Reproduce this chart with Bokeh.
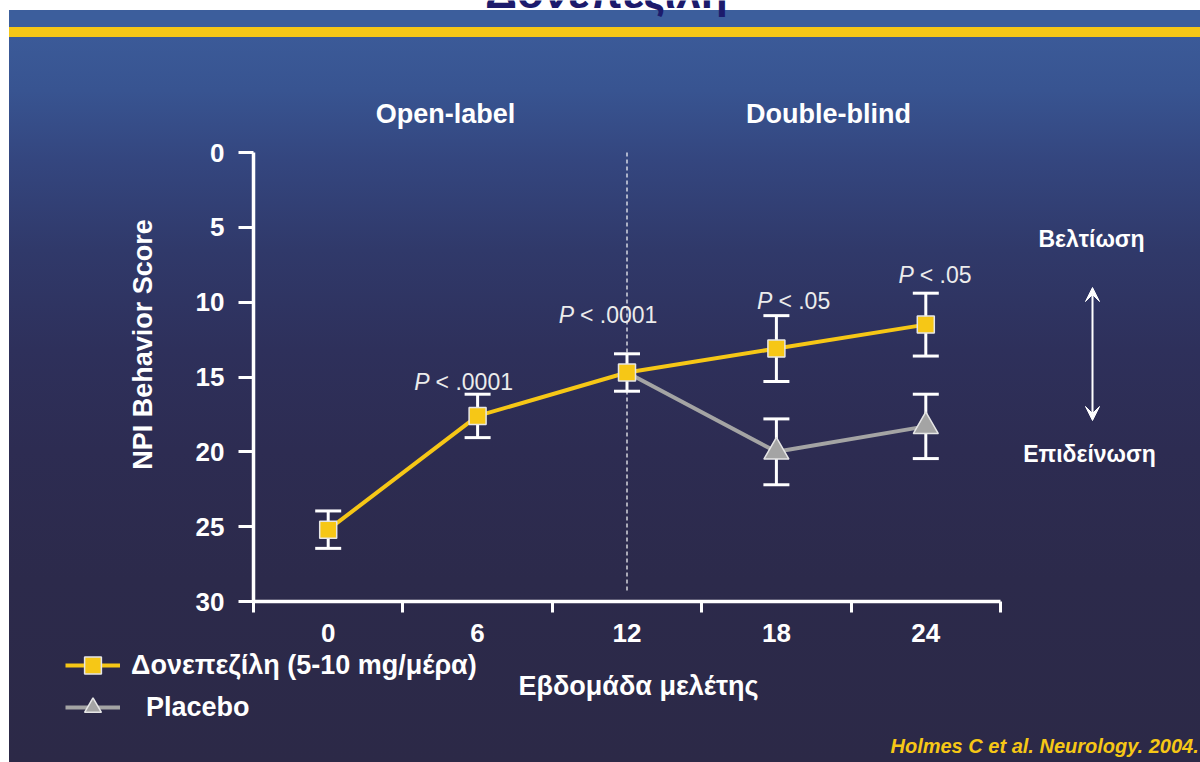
import math

from bokeh.core.properties import value
from bokeh.embed import file_html
from bokeh.models import (Arrow, ColumnDataSource, FixedTicker, Label, Legend,
                          LegendItem, Range1d, TeeHead, VeeHead, Whisker)
from bokeh.plotting import figure
from bokeh.resources import INLINE

# ---- data -------------------------------------------------------------
weeks = [0, 6, 12, 18, 24]
donepezil = [25.2, 17.6, 14.7, 13.1, 11.5]
donepezil_err = [1.25, 1.45, 1.25, 2.2, 2.1]

placebo_weeks = [12, 18, 24]
placebo = [14.7, 20.0, 18.3]
placebo_err_weeks = [18, 24]
placebo_err = [2.2, 2.15]

pvalue_weeks = [6, 12, 18, 24]
pvalue_text = ["< .0001", "< .0001", "< .05", "< .05"]

x_tick_labels = [0, 6, 12, 18, 24]
x_tick_marks = [-3, 3, 9, 15, 21, 27]
y_ticks = [0, 5, 10, 15, 20, 25, 30]

phase_split_week = 12

# label anchor offsets (pixels) relative to the upper end of each error bar
pvalue_dx = [-48, -53, -4, -12]
pvalue_dy = [-12, -39, -15, -18]

# ---- layout -----------------------------------------------------------
W, H = 1200, 762
# pixel box of the axes area inside the slide
AX_L, AX_R, AX_T, AX_B = 253, 1000, 152, 601
X0, X1 = -3, 27
Y_TOP, Y_BOT = 0, 30

FONT = "Liberation Sans"
YELLOW = "#f6c716"
GREY = "#a4a4a4"


def dx(px):
    return X0 + (px - AX_L) * (X1 - X0) / (AX_R - AX_L)


def dy(py):
    return Y_TOP + (py - AX_T) * (Y_BOT - Y_TOP) / (AX_B - AX_T)


# the plot frame fills the whole slide; axes sit at fixed locations inside it
p = figure(
    width=W, height=H,
    x_range=Range1d(dx(0), dx(W)), y_range=Range1d(dy(H), dy(0)),
    min_border=0, min_border_left=0, min_border_right=0,
    min_border_top=0, min_border_bottom=0,
    output_backend="svg", toolbar_location=None,
)
p.background_fill_alpha = 0
p.border_fill_alpha = 0
p.outline_line_color = None
p.grid.visible = False

# slide background: white margins, blue band, yellow rule, vertical gradient
p.styles = {
    "background": (
        "linear-gradient(to right, #ffffff 0px, #ffffff 9px, transparent 9px), "
        "linear-gradient(to bottom, #ffffff 0px, #ffffff 10px, #3c5e9c 10px, #3c5e9c 27px, "
        f"{YELLOW} 27px, {YELLOW} 37px, #3b5a98 37px, #385491 90px, #34467f 160px, "
        "#30396a 250px, #2e305b 350px, #2d2c52 450px, #2c2a4b 580px, #2c2947 762px)"
    )
}

# ---- axes -------------------------------------------------------------
for ax in (p.xaxis[0], p.yaxis[0]):
    ax.axis_line_color = "white"
    ax.axis_line_width = 3.5
    ax.major_label_text_color = "white"
    ax.major_label_text_font = FONT
    ax.major_label_text_font_style = "bold"
    ax.major_label_text_font_size = "26px"
    ax.major_tick_line_color = "white"
    ax.major_tick_line_width = 3
    ax.major_tick_in = 0

p.yaxis.fixed_location = X0
p.yaxis.bounds = (Y_TOP, Y_BOT)
p.yaxis.ticker = FixedTicker(ticks=y_ticks)
p.yaxis.major_tick_out = 15
p.yaxis.major_label_standoff = 14
p.yaxis.minor_tick_line_color = None

p.xaxis.fixed_location = Y_BOT
p.xaxis.bounds = (X0, X1)
p.xaxis.ticker = FixedTicker(ticks=x_tick_labels, minor_ticks=x_tick_marks)
p.xaxis.major_tick_out = 0
p.xaxis.major_tick_line_color = None
p.xaxis.minor_tick_line_color = "white"
p.xaxis.minor_tick_line_width = 3
p.xaxis.minor_tick_in = 0
p.xaxis.minor_tick_out = 11
p.xaxis.major_label_standoff = 11

# phase divider between open-label and double-blind periods
p.segment(x0=phase_split_week, y0=Y_TOP, x1=phase_split_week, y1=Y_BOT - 0.6,
          line_color="white", line_width=1.2, line_dash="4 3")

# ---- error bars ---------------------------------------------------------
don_src = ColumnDataSource(dict(
    x=weeks, y=donepezil,
    upper=[v - e for v, e in zip(donepezil, donepezil_err)],
    lower=[v + e for v, e in zip(donepezil, donepezil_err)],
))
pla_err_y = [placebo[placebo_weeks.index(w)] for w in placebo_err_weeks]
pla_err_src = ColumnDataSource(dict(
    x=placebo_err_weeks,
    upper=[v - e for v, e in zip(pla_err_y, placebo_err)],
    lower=[v + e for v, e in zip(pla_err_y, placebo_err)],
))
for src in (don_src, pla_err_src):
    p.add_layout(Whisker(
        source=src, base="x", upper="upper", lower="lower", dimension="height",
        line_color="white", line_width=3,
        upper_head=TeeHead(size=26, line_color="white", line_width=3),
        lower_head=TeeHead(size=26, line_color="white", line_width=3),
    ))

# ---- series -------------------------------------------------------------
pla_line = p.line(placebo_weeks, placebo, line_color=GREY, line_width=4)
don_line = p.line(weeks, donepezil, line_color=YELLOW, line_width=4)
don_pts = p.scatter(weeks, donepezil, marker="square", size=17,
                    fill_color=YELLOW, line_color="#e6e6e6", line_width=1.5)
pla_pts = p.scatter(placebo_weeks[1:], placebo[1:], marker="triangle", size=25,
                    fill_color=GREY, line_color="#e6e6e6", line_width=1.5)

# ---- significance labels -------------------------------------------------
pv_src = ColumnDataSource(dict(
    x=pvalue_weeks,
    y=[don_src.data["upper"][weeks.index(w)] for w in pvalue_weeks],
    txt=pvalue_text,
    px=["P"] * len(pvalue_weeks),
    xo=pvalue_dx,
    xo2=[d + 6 for d in pvalue_dx],
    yo=pvalue_dy,
))
p.text(x="x", y="y", text="px", x_offset="xo", y_offset="yo", source=pv_src,
       text_align="right", text_baseline="middle", text_color="#ececec",
       text_font=value(FONT), text_font_style="italic", text_font_size="23px")
p.text(x="x", y="y", text="txt", x_offset="xo2", y_offset="yo", source=pv_src,
       text_align="left", text_baseline="middle", text_color="#ececec",
       text_font=value(FONT), text_font_style="normal", text_font_size="23px")


# ---- text annotations -----------------------------------------------------
def label(text, px, py, size="27px", align="center", style="bold",
          color="white", angle=0.0):
    p.add_layout(Label(
        x=dx(px), y=dy(py), text=text, text_align=align, text_baseline="middle",
        text_font=FONT, text_font_size=size, text_font_style=style,
        text_color=color, angle=angle,
    ))


label("Δονεπεζίλη", 606, -8, size="44px", color="#1c1b6c")
label("Open-label", 445, 113)
label("Double-blind", 828, 113)
label("NPI Behavior Score", 142, 344, angle=math.pi / 2)
label("Εβδομάδα μελέτης", 638, 685)
label("Βελτίωση", 1091, 238, size="23px")
label("Επιδείνωση", 1089, 453, size="23px")
label("Holmes C et al. Neurology. 2004.", 890, 745, size="20px",
      align="left", style="bold italic", color=YELLOW)

p.add_layout(Arrow(
    x_start=dx(1092), y_start=dy(420), x_end=dx(1092), y_end=dy(287),
    line_color="white", line_width=2,
    start=VeeHead(size=14, fill_color="white", line_color="white", line_width=1),
    end=VeeHead(size=14, fill_color="white", line_color="white", line_width=1),
))

# ---- legend ---------------------------------------------------------------
legend = Legend(
    items=[
        LegendItem(label="Δονεπεζίλη (5-10 mg/μέρα)", renderers=[don_line, don_pts]),
        LegendItem(label="\u00a0\u00a0Placebo", renderers=[pla_line, pla_pts]),
    ],
    location=(65, H - 728),
    glyph_width=55, glyph_height=42, label_height=42,
    label_standoff=11, spacing=0, padding=0, margin=0,
    background_fill_alpha=0, border_line_alpha=0,
    label_text_font=FONT, label_text_font_style="bold",
    label_text_font_size="27px", label_text_color="white",
)
p.add_layout(legend)

open("out.html", "w").write(file_html(p, INLINE))
